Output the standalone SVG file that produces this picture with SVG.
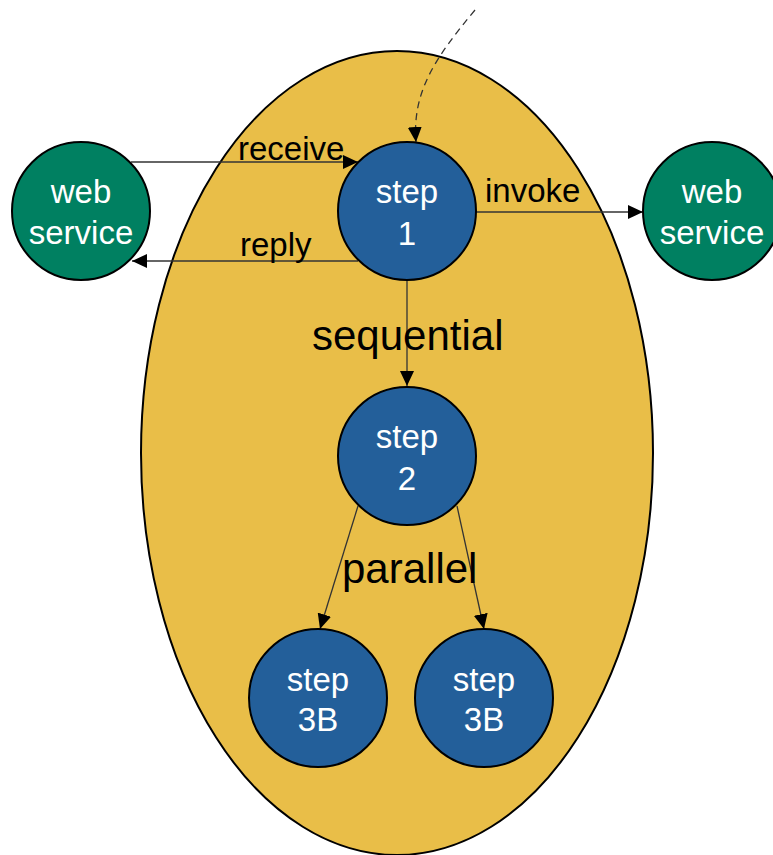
<svg xmlns="http://www.w3.org/2000/svg" width="773" height="855" viewBox="0 0 773 855">
<style>
.scope{fill:#E9BE48;stroke:#000;stroke-width:2}
.step{fill:#235F9A;stroke:#000;stroke-width:2}
.ws{fill:#008061;stroke:#000;stroke-width:2}
.nt{font-family:"Liberation Sans",Arial,sans-serif;font-size:33px;fill:#fff;text-anchor:middle}
.lbl{font-family:"Liberation Sans",Arial,sans-serif;font-size:33px;fill:#000}
.big{font-family:"Liberation Sans",Arial,sans-serif;font-size:42px;fill:#000}
.edge{stroke:#333;stroke-width:1.3;fill:none;marker-end:url(#ah)}
</style>
<defs>
<marker id="ah" markerUnits="userSpaceOnUse" markerWidth="16" markerHeight="14" refX="15" refY="7" orient="auto">
<path d="M0,0 L15,7 L0,14 Z" fill="#000"/>
</marker>
</defs>
<g id="scope"><ellipse class="scope" cx="397" cy="453" rx="256" ry="402"/></g>
<g id="connectors">
<path class="edge" d="M475,10 C435,58 412,92 416,142" stroke-dasharray="7,5"/>
<path class="edge" d="M131,162 L358,162"/>
<path class="edge" d="M358,261 L132,261"/>
<path class="edge" d="M476,212 L643,212"/>
<path class="edge" d="M407,280 L407,386"/>
<path class="edge" d="M358,506 L320,629"/>
<path class="edge" d="M457,506 L484,629"/>
<text class="lbl" x="238" y="160">receive</text>
<text class="lbl" x="240" y="256">reply</text>
<text class="lbl" x="485" y="202">invoke</text>
<text class="big" x="312" y="350">sequential</text>
<text class="big" x="342" y="583">parallel</text>
</g>
<g id="ws-left"><circle class="ws" cx="81" cy="211" r="69"/><text class="nt" x="81" y="203">web</text><text class="nt" x="81" y="244">service</text></g>
<g id="ws-right"><circle class="ws" cx="712" cy="211" r="69"/><text class="nt" x="712" y="203">web</text><text class="nt" x="712" y="244">service</text></g>
<g id="step1"><circle class="step" cx="407" cy="211" r="69"/><text class="nt" x="407" y="203">step</text><text class="nt" x="407" y="245">1</text></g>
<g id="step2"><circle class="step" cx="407" cy="456" r="69"/><text class="nt" x="407" y="448">step</text><text class="nt" x="407" y="490">2</text></g>
<g id="step3b-left"><circle class="step" cx="318" cy="698" r="69"/><text class="nt" x="318" y="691">step</text><text class="nt" x="318" y="731">3B</text></g>
<g id="step3b-right"><circle class="step" cx="484" cy="698" r="69"/><text class="nt" x="484" y="691">step</text><text class="nt" x="484" y="731">3B</text></g>
</svg>
